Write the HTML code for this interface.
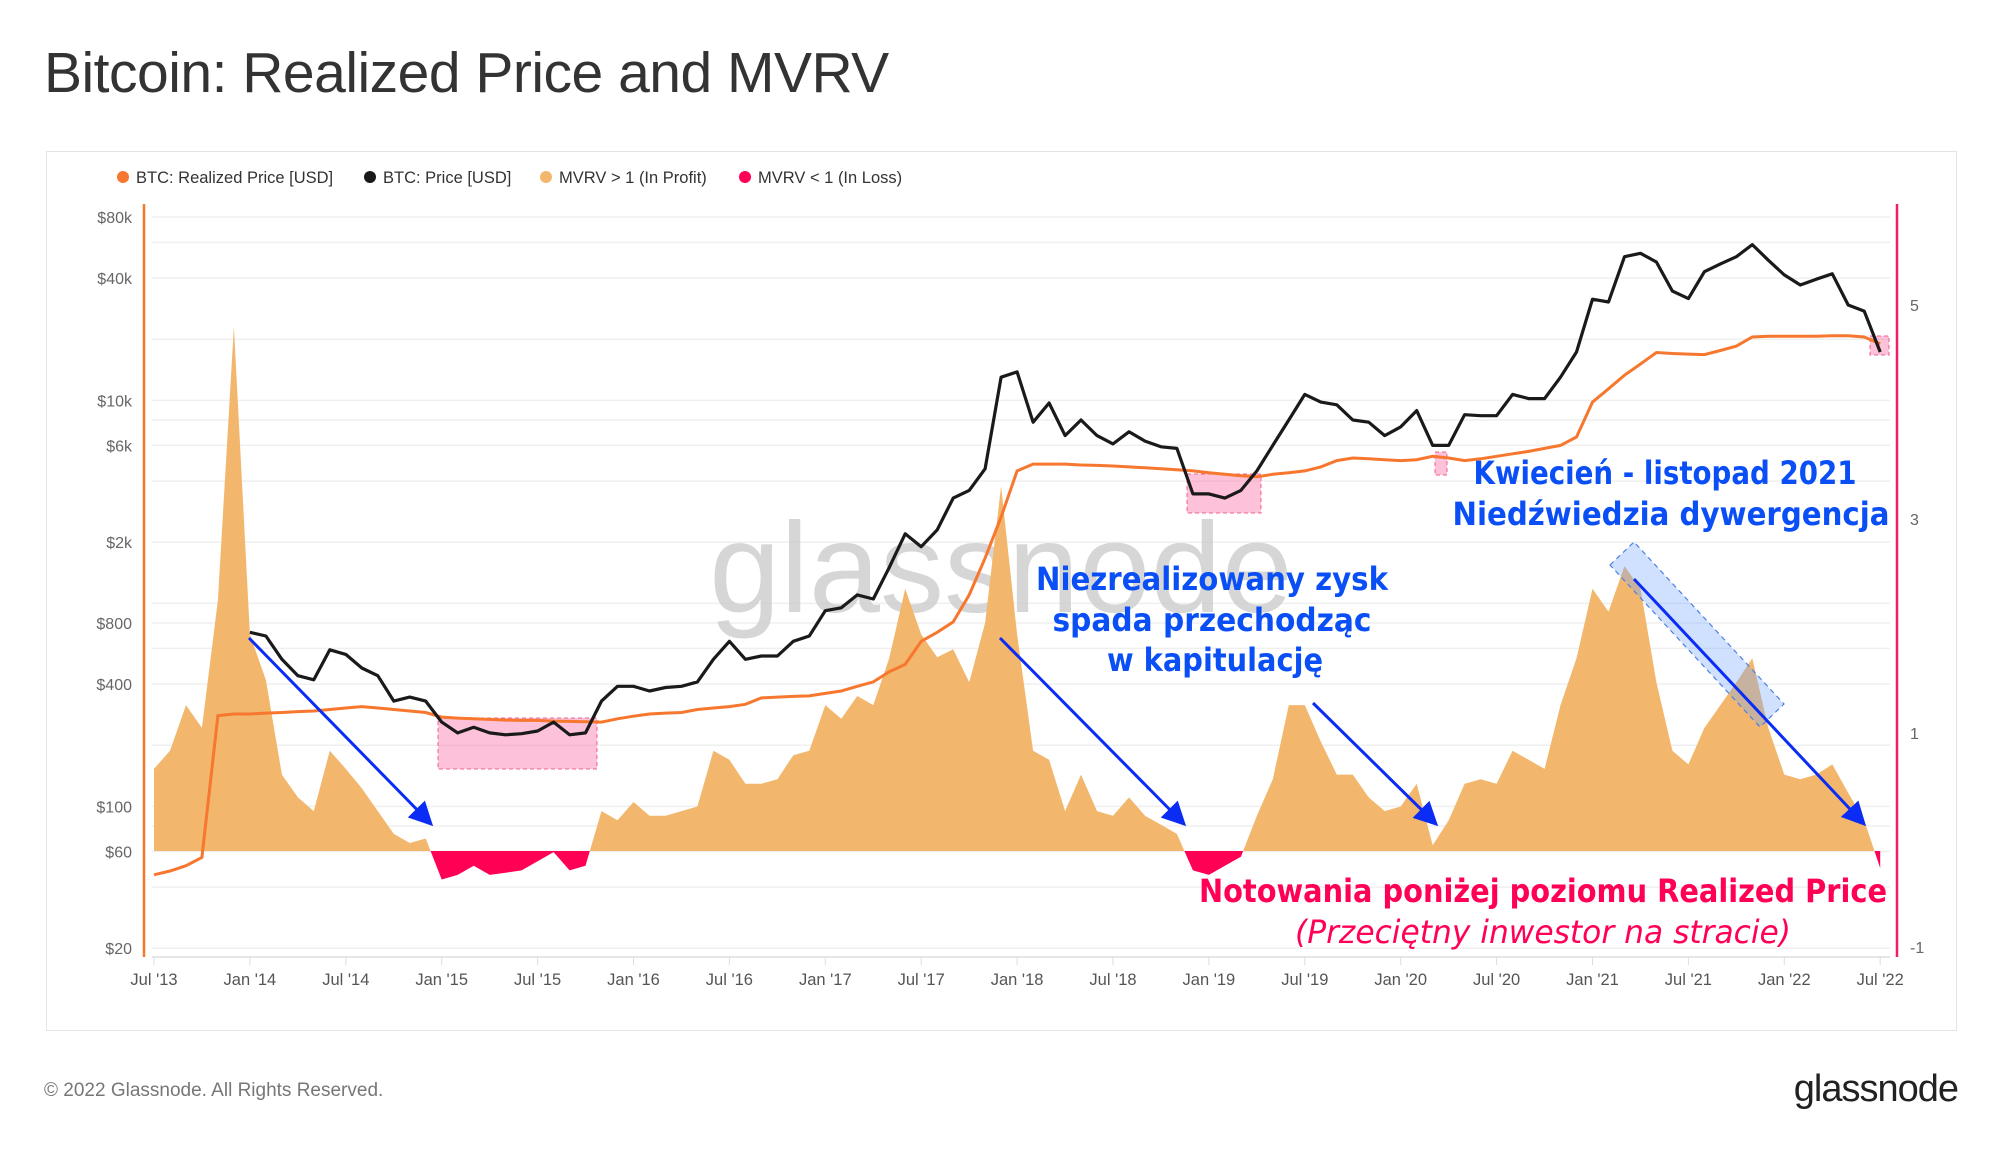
<!DOCTYPE html>
<html><head><meta charset="utf-8">
<style>
html,body{margin:0;padding:0;background:#fff;}
body{width:2000px;height:1152px;overflow:hidden;position:relative;font-family:"Liberation Sans",sans-serif;}
#title{position:absolute;left:44px;top:40px;font-size:57px;color:#333;letter-spacing:-0.5px;}
#box{position:absolute;left:46px;top:151px;width:1911px;height:880px;border:1.5px solid #e4e4e4;box-sizing:border-box;}
#footer{position:absolute;left:44px;top:1080px;font-size:19px;color:#777;}
#logo{position:absolute;right:42px;top:1068px;font-size:38px;color:#222;letter-spacing:-1px;}
svg{position:absolute;left:0;top:0;}
</style></head>
<body>
<div id="title">Bitcoin: Realized Price and MVRV</div>
<div id="box"></div>
<div id="footer">© 2022 Glassnode. All Rights Reserved.</div>
<div id="logo">glassnode</div>
<svg id="chart" width="2000" height="1152"></svg>
<script>
// ---- data (monthly, Jul 2013 .. Jul 2022) ----
const xLabels = ["Jul '13","Jan '14","Jul '14","Jan '15","Jul '15","Jan '16","Jul '16","Jan '17","Jul '17","Jan '18","Jul '18","Jan '19","Jul '19","Jan '20","Jul '20","Jan '21","Jul '21","Jan '22","Jul '22"];
const leftTickValues = [80000,40000,10000,6000,2000,800,400,100,60,20];
const leftTickLabels = ["$80k","$40k","$10k","$6k","$2k","$800","$400","$100","$60","$20"];
const rightTickValues = [5,3,1,-1];
const price = [null,null,null,null,null,null,
720,690,530,440,420,590,560,480,440,330,345,330,
260,230,245,230,225,228,235,260,225,230,330,390,
390,370,385,390,410,530,650,530,550,550,650,690,
920,950,1100,1050,1500,2200,1900,2300,3300,3600,4600,13000,
13800,7800,9700,6700,8000,6700,6100,7000,6300,5900,5800,3460,
3460,3300,3600,4490,6000,8000,10700,9800,9500,8000,7800,6700,
7400,8900,6000,6000,8500,8400,8400,10700,10200,10200,13000,17300,
31500,30500,51000,53000,48000,34500,31700,43000,47000,51000,58500,49000,
41500,37000,39500,42000,29500,27500,17300];
const realized = [46,48,51,56,280,285,
285,288,290,293,295,300,305,310,305,300,295,290,
275,272,270,268,266,265,265,263,262,261,260,270,
278,285,288,290,300,305,310,318,342,345,348,350,
360,370,390,410,460,500,650,720,810,1100,1670,2660,
4490,4850,4850,4850,4800,4780,4750,4700,4650,4600,4550,4490,
4400,4320,4250,4200,4320,4400,4490,4700,5050,5200,5150,5100,
5050,5100,5300,5200,5050,5150,5300,5450,5600,5800,6000,6600,
9800,11400,13300,15100,17200,17000,16900,16800,17600,18500,20500,20700,
20700,20700,20700,20800,20800,20500,19000];
const mvrv = [1.72,1.88,2.28,2.08,3.2,5.6,
2.9,2.5,1.67,1.47,1.35,1.88,1.72,1.55,1.35,1.15,1.07,1.11,
0.75,0.79,0.87,0.79,0.81,0.83,0.91,0.99,0.83,0.87,1.35,1.27,
1.43,1.31,1.31,1.35,1.39,1.88,1.80,1.59,1.59,1.63,1.84,1.88,
2.28,2.16,2.36,2.28,2.69,3.3,2.9,2.7,2.77,2.48,3.0,4.2,
2.9,1.88,1.80,1.35,1.67,1.35,1.31,1.47,1.31,1.23,1.15,0.83,
0.79,0.87,0.95,1.31,1.63,2.28,2.28,1.96,1.67,1.67,1.47,1.35,
1.39,1.59,1.05,1.27,1.59,1.63,1.59,1.88,1.80,1.72,2.28,2.69,
3.3,3.1,3.5,3.3,2.48,1.88,1.76,2.08,2.28,2.48,2.69,2.08,
1.67,1.63,1.67,1.76,1.51,1.27,0.85];

// ---- scales ----
const X0=154, PX_PER_MONTH=95.9/6;
const xScale = m => X0 + m*PX_PER_MONTH;
const yLog = v => 217 + (Math.log10(80000) - Math.log10(v))*203;
const MV_BASE=851, MV_K=114;
const yMv = v => MV_BASE - (v-1)*MV_K;
const yRight = v => 733 - (v-1)*107;

const NS="http://www.w3.org/2000/svg";
const svg=document.getElementById('chart');
function mk(tag,attrs,parent){const e=document.createElementNS(NS,tag);for(const k in attrs)e.setAttribute(k,attrs[k]);(parent||svg).appendChild(e);return e;}

const defs=mk('defs',{});
const cpA=mk('clipPath',{id:'above'},defs);
mk('rect',{x:0,y:0,width:2000,height:MV_BASE},cpA);
const cpB=mk('clipPath',{id:'below'},defs);
mk('rect',{x:0,y:MV_BASE,width:2000,height:400},cpB);
const mkr=mk('marker',{id:'ah',markerWidth:8,markerHeight:8,refX:7,refY:4,orient:'auto',markerUnits:'strokeWidth'},defs);
mk('path',{d:'M0,0 L8,4 L0,8 z',fill:'#0a2cf5'},mkr);

// gridlines
const grid=mk('g',{});


const gridVals=[80000,60000,40000,20000,10000,8000,6000,4000,2000,1000,800,600,400,200,100,80,60,40,20];
gridVals.forEach(v=>{mk('line',{x1:152,x2:1890,y1:yLog(v),y2:yLog(v),stroke:'#efefef','stroke-width':1.5},grid);});

// watermark
const wm=mk('text',{x:1001,y:612,'font-size':128,'font-family':'"Liberation Sans",sans-serif',fill:'#cfcfcf','text-anchor':'middle',opacity:0.85});
wm.textContent='glassnode';



// MVRV area
let ad='M'+xScale(0).toFixed(1)+','+MV_BASE;
mvrv.forEach((v,i)=>{ad+='L'+xScale(i).toFixed(1)+','+yMv(v).toFixed(1);});
ad+='L'+xScale(mvrv.length-1).toFixed(1)+','+MV_BASE+'Z';
const ap=mk('path',{d:ad,fill:'#f2b76d','clip-path':'url(#above)'});


const an=mk('path',{d:ad,fill:'#ff0055','clip-path':'url(#below)'});



// pink highlight boxes
[[438,718,159,51],[1187,474,74,39],[1435,452,12,23],[1870,336,19,19]].forEach(b=>{
  const r=mk('rect',{x:b[0],y:b[1],width:b[2],height:b[3],fill:'rgba(250,120,170,0.45)',stroke:'#f06090','stroke-dasharray':'4 3','stroke-width':1});
  
  
});
// blue divergence box
const bb=mk('polygon',{points:'1610,565 1634,542 1784,704 1760,727',fill:'rgba(120,170,255,0.35)',stroke:'#4d7fe0','stroke-dasharray':'5 4','stroke-width':1.2});



// lines
function linePath(arr){let d='';let pen=false;arr.forEach((v,i)=>{if(v==null){pen=false;return;}d+=(pen?'L':'M')+xScale(i).toFixed(1)+','+yLog(v).toFixed(1);pen=true;});return d;}
const rl=mk('path',{d:linePath(realized),fill:'none',stroke:'#f7772e','stroke-width':3});


const pl=mk('path',{d:linePath(price),fill:'none',stroke:'#1a1a1a','stroke-width':3.2,'stroke-linejoin':'round'});



// axes
const la=mk('line',{x1:144,x2:144,y1:204,y2:957,stroke:'#f7772e','stroke-width':2.5});


const ra=mk('line',{x1:1897,x2:1897,y1:204,y2:957,stroke:'#f0205f','stroke-width':2.5});


const xa=mk('line',{x1:152,x2:1890,y1:957,y2:957,stroke:'#ddd','stroke-width':1.5});



leftTickValues.forEach((v,i)=>{
  const t=mk('text',{x:132,y:yLog(v)+6,'font-size':16,fill:'#666','text-anchor':'end'});
  t.textContent=leftTickLabels[i];
  
  
});
rightTickValues.forEach(v=>{
  const t=mk('text',{x:1910,y:yRight(v)+6,'font-size':16,fill:'#666'});
  t.textContent=String(v);
  
  
});
xLabels.forEach((s,i)=>{
  const x=xScale(i*6);
  mk('line',{x1:x,x2:x,y1:957,y2:965,stroke:'#ddd','stroke-width':1});
  const t=mk('text',{x:x,y:985,'font-size':16.5,fill:'#555','text-anchor':'middle'});
  t.textContent=s;
  
  
});

// legend
const legend=[['#f7772e','BTC: Realized Price [USD]',117],['#1a1a1a','BTC: Price [USD]',364],['#f2b76d','MVRV > 1 (In Profit)',540],['#ff0055','MVRV < 1 (In Loss)',739]];
legend.forEach(l=>{
  const g=mk('g',{});
  
  
  mk('circle',{cx:l[2]+6,cy:177,r:6,fill:l[0]},g);
  const t=mk('text',{x:l[2]+19,y:183,'font-size':16.5,fill:'#333'},g);
  t.textContent=l[1];
});

// arrows
[[249,638,436,829],[1000,638,1189,829],[1313,703,1441,829],[1634,579,1869,829]].forEach(a=>{
  const l=mk('line',{x1:a[0],y1:a[1],x2:a[2]-5,y2:a[3]-5,stroke:'#0a2cf5','stroke-width':3,'marker-end':'url(#ah)'});
  
  
});

// annotations
function ann(txt,x,y,len,size,color,weight,style,anchor,name){
  const t=mk('text',{x:x,y:y,'font-size':size,fill:color,'font-weight':weight,'font-style':style,'text-anchor':anchor,textLength:len,lengthAdjust:'spacingAndGlyphs','font-family':'"DejaVu Sans","Liberation Sans",sans-serif'});
  t.textContent=txt;
  
  
}
const B='#0a4ff5', R='#ff0055';
ann('Niezrealizowany zysk',1212,590,352,32,B,'bold','normal','middle','annotation-unrealized-1');
ann('spada przechodząc',1212,631,319,32,B,'bold','normal','middle','annotation-unrealized-2');
ann('w kapitulację',1215,671,216,32,B,'bold','normal','middle','annotation-unrealized-3');
ann('Kwiecień - listopad 2021',1665,484,383,32,B,'bold','normal','middle','annotation-divergence-1');
ann('Niedźwiedzia dywergencja',1671,525,437,32,B,'bold','normal','middle','annotation-divergence-2');
ann('Notowania poniżej poziomu Realized Price',1543,902,688,32,R,'bold','normal','middle','annotation-below-realized');
ann('(Przeciętny inwestor na stracie)',1543,943,496,32,R,'normal','italic','middle','annotation-investor-loss');
</script>
</body></html>
